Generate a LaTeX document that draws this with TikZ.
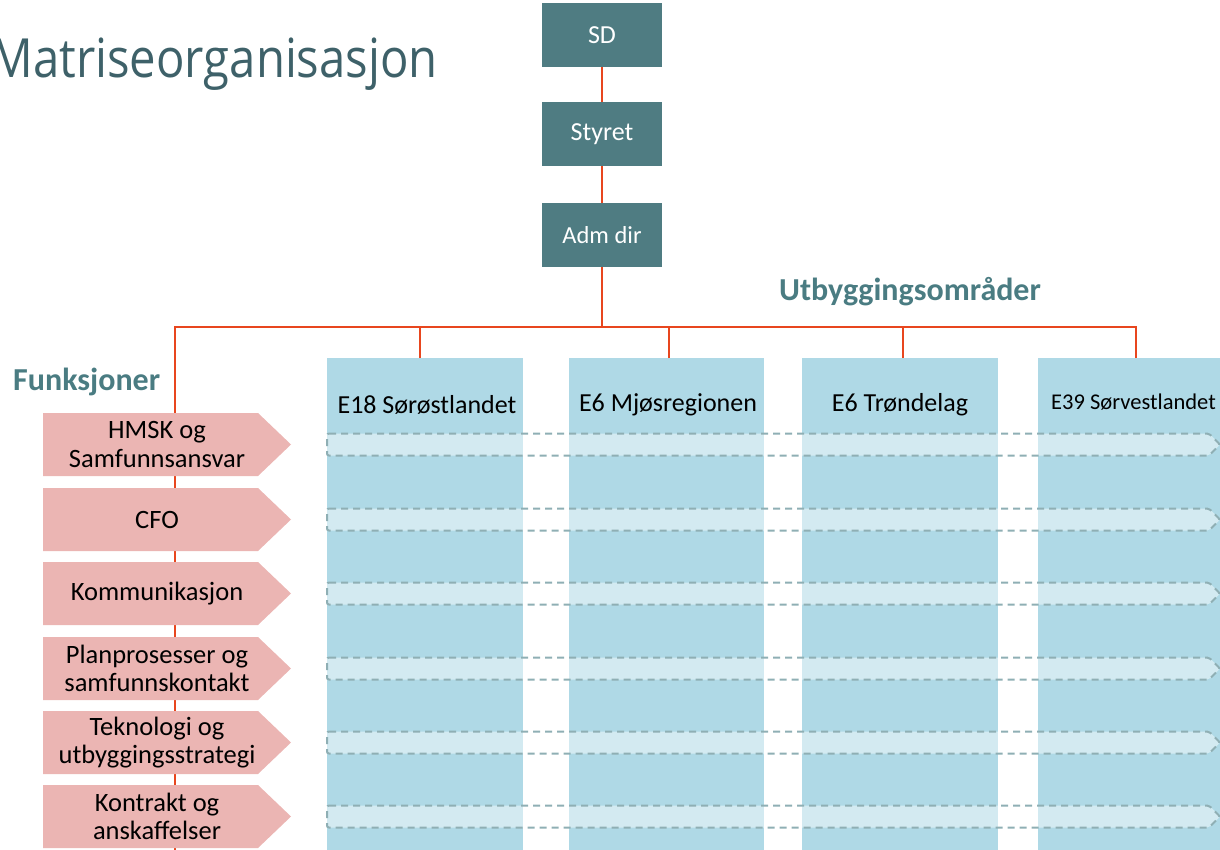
\documentclass[tikz,border=0pt]{standalone}
\usepackage{fontspec}
\setmainfont{Carlito}
\newfontfamily\titlefont{Open Sans}
\definecolor{boxteal}{HTML}{4F7C82}
\definecolor{titlecol}{HTML}{3E6169}
\definecolor{headteal}{HTML}{4A7C82}
\definecolor{lred}{HTML}{E8461E}
\definecolor{pinkc}{HTML}{EBB5B3}
\definecolor{colblue}{HTML}{AFD9E6}
\definecolor{dashc}{HTML}{8FAFB4}
\begin{document}
\begin{tikzpicture}[x=1pt,y=-1pt,
  orgbox/.style={fill=boxteal, text=white, minimum width=120, minimum height=64, inner sep=0, font=\fontsize{26}{30}\selectfont},
  colbox/.style={fill=colblue, minimum width=196, minimum height=500, anchor=north west, inner sep=0},
  redline/.style={draw=lred, line width=2.7},
  funtext/.style={font=\fontsize{26.5}{28.5}\selectfont, align=center, text=black, inner sep=0},
  coltitle/.style={font=\fontsize{26}{30}\selectfont, inner sep=0},
  heading/.style={font=\bfseries\fontsize{32}{36}\selectfont, text=headteal, inner sep=0},
  funarrow/.style={fill=pinkc},
  dashbar/.style={draw=dashc, dash pattern=on 7pt off 5pt, line width=2, fill=white, fill opacity=0.45, rounded corners=2}
]
\useasboundingbox (0,0) rectangle (1220,850);
\clip (0,0) rectangle (1220,850);

% title
\node[anchor=base east, inner sep=0, text=titlecol, font=\titlefont\fontsize{54}{60}\selectfont] (title) at (438,78) {\scalebox{0.875}[1]{Matriseorganisasjon}};

% columns
\node[colbox] (c1) at (327,358) {};
\node[colbox, minimum width=195] (c2) at (569,358) {};
\node[colbox] (c3) at (802,358) {};
\node[colbox] (c4) at (1038,358) {};

% org boxes
\node[orgbox] (sd) at (602,35) {SD};
\node[orgbox] (styret) at (602,134) {Styret};
\node[orgbox, font=\fontsize{24.5}{28}\selectfont] (adm) at (602,235) {Adm dir};

% connectors
\coordinate (hl) at (175,327);
\coordinate (hr) at (1136,327);
\coordinate (lb) at (175,850);
\draw[redline] (sd.south) -- (styret.north);
\draw[redline] (styret.south) -- (adm.north);
\draw[redline] (adm.south) -- (adm.south |- hl);
\draw[redline, line cap=rect] (hl) -- (hr);
\draw[redline] (hl) -- (lb);
\draw[redline] (c1.north -| 420,0) -- (420,327);
\draw[redline] (c2.north -| 669,0) -- (669,327);
\draw[redline] (c3.north -| 903,0) -- (903,327);
\draw[redline] (c4.north -| 1136,0) -- (hr);

% headings
\node[heading] (utb) at (910,292) {Utbyggingsområder};
\node[heading, anchor=west] (funk) at (13,382) {Funksjoner};

% column titles
\node[coltitle] (t1) at (427,405) {E18 Sørøstlandet};
\node[coltitle] (t2) at (668,405) {E6 Mjøsregionen};
\node[coltitle] (t3) at (900,405) {E6 Trøndelag};
\node[coltitle, anchor=west, font=\fontsize{22.5}{26}\selectfont] (t4) at (1051,402) {E39 Sørvestlandet};

% function arrows and dashed bars
\foreach \yt/\txt/\n in {413/{HMSK og\\Samfunnsansvar}/1,
                         488/{CFO}/2,
                         562/{Kommunikasjon}/3,
                         637/{Planprosesser og\\samfunnskontakt}/4,
                         711/{Teknologi og\\utbyggingsstrategi}/5,
                         785/{Kontrakt og\\anskaffelser}/6}{
  \pgfmathsetmacro{\yc}{\yt+31.5}
  \fill[funarrow] (43,\yt) -- (258,\yt) -- (291,\yc) -- (258,\yt+63) -- (43,\yt+63) -- cycle;
  \node[funtext] (f\n) at (157,\yc) {\txt};
  \path[dashbar] (327,\yc-11) -- (1209,\yc-11) -- (1220,\yc) -- (1209,\yc+11) -- (327,\yc+11) -- cycle;
}
\end{tikzpicture}
\end{document}
